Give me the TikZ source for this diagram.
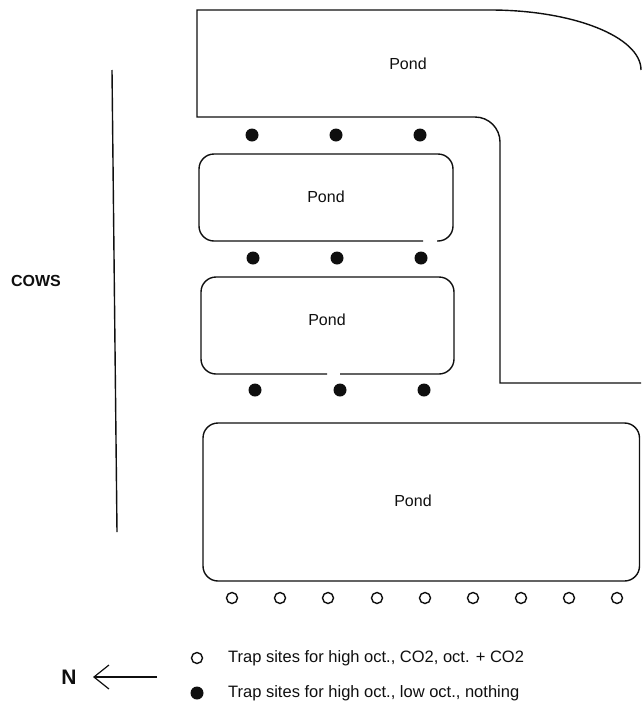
\documentclass[tikz,border=0pt]{standalone}
\usepackage{fontspec}
\setmainfont{Liberation Sans}
\usepackage{tikz}
\usetikzlibrary{arrows.meta,positioning}
\definecolor{inkblack}{RGB}{15,15,15}

\begin{document}
\begin{tikzpicture}[
 x=1pt, y=-1pt,
 pond/.style={draw=inkblack, line width=1.4pt, rounded corners=15pt},
 trapfull/.style={circle, fill=inkblack, inner sep=0pt, minimum size=13pt},
 trapopen/.style={circle, draw=inkblack, line width=1.4pt, inner sep=0pt, minimum size=11pt},
 label/.style={font=\fontsize{16}{19}\selectfont, text=inkblack, inner sep=0pt},
 legendtext/.style={font=\fontsize{16.5}{20}\selectfont, text=inkblack, inner sep=0pt, anchor=west},
 arrow/.style={-{Straight Barb[length=15pt,width=24pt]}, line width=1.2pt, draw=inkblack}
]
\useasboundingbox (0,0) rectangle (641,718);

% Ponds
\draw[draw=inkblack, line width=1.4pt] (641,383) -- (500,383) -- (500,142)
 .. controls (500,128.2) and (488.8,117) .. (475,117) -- (197,117) -- (197,10) -- (490,10)
 .. controls (573.4,10) and (641,36.9) .. (641,70);
\draw[pond] (423,241) -- (199,241) -- (199,154) -- (453,154) -- (453,241) -- (437,241);
\draw[pond] (327,374) -- (201,374) -- (201,277) -- (454,277) -- (454,374) -- (340,374);
\draw[pond] (203,423) rectangle (639.5,581);

\node[label] (pondtop) at (408,64) {Pond};
\node[label] (pondtwo) at (326,197) {Pond};
\node[label] (pondthree) at (327,320) {Pond};
\node[label] (pondbig) at (413,501) {Pond};

% Cows side
\coordinate (fencetop) at (112,70);
\coordinate (fencebottom) at (117,532);
\draw[draw=inkblack, line width=1.4pt] (fencetop) -- (fencebottom);
\node[label, font=\fontsize{16}{19}\selectfont\bfseries] (cows) at (36,281) {COWS};

% Filled trap sites
\node[trapfull] (fa1) at (252,135) {};
\node[trapfull] (fa2) at (336,135) {};
\node[trapfull] (fa3) at (420,135) {};
\node[trapfull] (fb1) at (253,258) {};
\node[trapfull] (fb2) at (337,258) {};
\node[trapfull] (fb3) at (421,258) {};
\node[trapfull] (fc1) at (255,390) {};
\node[trapfull] (fc2) at (340,390) {};
\node[trapfull] (fc3) at (424,390) {};

% Open trap sites
\node[trapopen] (o1) at (232,598) {};
\node[trapopen] (o2) at (280,598) {};
\node[trapopen] (o3) at (328,598) {};
\node[trapopen] (o4) at (377,598) {};
\node[trapopen] (o5) at (425,598) {};
\node[trapopen] (o6) at (473,598) {};
\node[trapopen] (o7) at (521,598) {};
\node[trapopen] (o8) at (569,598) {};
\node[trapopen] (o9) at (617,598) {};

% North
\node[label, font=\fontsize{21}{24}\selectfont\bfseries] (north) at (69,677) {N};
\coordinate (arrowtail) at (157,677);
\coordinate (arrowtip) at (93,677);
\draw[arrow] (arrowtail) -- (arrowtip);

% Legend
\node[trapopen] (legopen) at (197,658) {};
\node[trapfull] (legfull) at (197,693) {};
\node[legendtext] (legopentext) at (228,658) {Trap sites for high oct., CO2, oct. + CO2};
\node[legendtext] (legfulltext) at (228,693) {Trap sites for high oct., low oct., nothing};

\end{tikzpicture}
\end{document}
